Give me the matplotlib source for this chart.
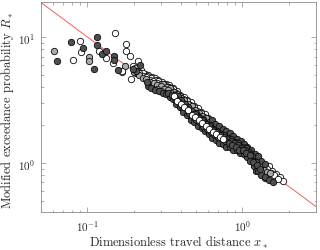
import matplotlib
matplotlib.use("Agg")
import matplotlib.pyplot as plt

plt.rcParams['font.family'] = 'serif'
plt.rcParams['font.serif'] = ['cmr10']
plt.rcParams['mathtext.fontset'] = 'cm'
plt.rcParams['axes.formatter.use_mathtext'] = True

# ---- reference line (fit) ----
line_x = [0.05, 3.0]
line_y = [19.0, 0.449]

# ---- scattered small-x points ----
dark_sc_x = [0.0634, 0.0781, 0.0934, 0.110, 0.116, 0.116, 0.125, 0.133, 0.149, 0.149, 0.157, 0.205, 0.219, 0.242, 0.196]
dark_sc_y = [6.51, 9.12, 8.17, 5.60, 10.0, 8.69, 7.41, 7.74, 7.06, 6.64, 5.50, 5.4, 6.0, 4.4, 5.6]
gray_sc_x = [0.0612, 0.1026, 0.102, 0.174, 0.200]
gray_sc_y = [7.74, 7.01, 6.44, 5.94, 5.3]
white_sc_x = [0.0809, 0.0897, 0.0906, 0.119, 0.132, 0.146, 0.168, 0.151, 0.178, 0.178, 0.188, 0.191, 0.167, 0.213]
white_sc_y = [6.64, 9.35, 7.60, 7.78, 6.84, 6.21, 5.32, 10.8, 8.89, 7.78, 7.06, 4.66, 5.43, 6.53]

# ---- dense band: white series ----
w1_x = [0.198, 0.210, 0.223, 0.235, 0.246, 0.261, 0.275, 0.288, 0.304, 0.322, 0.338, 0.356, 0.377, 0.396, 0.419,
        0.440, 0.466, 0.489, 0.518, 0.544, 0.575, 0.604]
w1_y = [5.95, 5.6, 5.45, 5.15, 5.02, 4.82, 4.75, 4.55, 4.45, 4.27, 4.17, 3.92, 3.75, 3.48, 3.37,
        3.16, 3.05, 2.85, 2.72, 2.55, 2.45, 2.28]
w1_tail_x = [1.48, 1.56, 1.65, 1.74, 1.83]
w1_tail_y = [0.94, 0.87, 0.82, 0.77, 0.72]
w2_x = [0.216, 0.228, 0.240, 0.253, 0.267, 0.281, 0.297, 0.313, 0.330, 0.348, 0.366, 0.386, 0.407, 0.429, 0.453,
        0.477, 0.503, 0.531, 0.559, 0.589, 0.621, 0.655]
w2_y = [5.24, 4.96, 4.81, 4.6, 4.51, 4.35, 4.25, 4.08, 3.99, 3.79, 3.62, 3.35, 3.19, 3.01, 2.85,
        2.67, 2.55, 2.38, 2.29, 2.15, 2.06, 1.93]
w2_tail_x = [1.30, 1.38, 1.45, 1.53, 1.61, 1.70]
w2_tail_y = [1.02, 0.93, 0.9, 0.84, 0.81, 0.75]
w3_x = [0.362, 0.381, 0.402, 0.424, 0.447, 0.471, 0.496, 0.523, 0.551, 0.581, 0.612, 0.645, 0.680, 0.717, 0.756]
w3_y = [3.4, 3.14, 2.97, 2.77, 2.62, 2.41, 2.32, 2.18, 2.1, 1.96, 1.86, 1.75, 1.69, 1.6, 1.56]
w4_x = [0.204, 0.216, 0.229, 0.243, 0.257, 0.272, 0.287, 0.303, 0.319, 0.337, 0.355, 0.374, 0.394, 0.415, 0.437,
        0.461, 0.486, 0.512, 0.540, 0.569, 0.600]
w4_y = [5.7, 5.3, 5.17, 4.88, 4.75, 4.55, 4.47, 4.27, 4.2, 4.0, 3.86, 3.6, 3.42, 3.22, 3.1,
        2.9, 2.79, 2.6, 2.48, 2.34, 2.23]

# ---- dense band: gray series ----
g1_x = [0.205, 0.217, 0.228, 0.241, 0.254, 0.268, 0.282, 0.297, 0.313, 0.330, 0.348, 0.367, 0.386, 0.408, 0.429,
        0.453, 0.478, 0.503, 0.531, 0.560, 0.590, 0.622, 0.656, 0.692, 0.729, 0.769, 0.811, 0.854, 0.901, 0.950,
        1.00, 1.05, 1.11, 1.17, 1.24, 1.31, 1.38, 1.45]
g1_y = [5.18, 5.04, 4.78, 4.65, 4.42, 4.33, 4.15, 4.07, 3.9, 3.83, 3.62, 3.47, 3.2, 3.05, 2.83,
        2.69, 2.5, 2.41, 2.24, 2.17, 2.01, 1.94, 1.8, 1.74, 1.65, 1.6, 1.52, 1.49, 1.41, 1.38,
        1.3, 1.27, 1.18, 1.11, 1.0, 0.96, 0.88, 0.85]
g2_x = [0.283, 0.300, 0.317, 0.334, 0.353, 0.372, 0.393, 0.413, 0.436, 0.459, 0.485, 0.511, 0.539, 0.568, 0.599,
        0.632, 0.666, 0.703, 0.741, 0.782, 0.824, 0.869, 0.917, 0.967, 1.02, 1.07, 1.13, 1.19, 1.26, 1.33,
        1.41, 1.51]
g2_y = [3.88, 3.75, 3.63, 3.52, 3.35, 3.14, 2.9, 2.72, 2.55, 2.37, 2.22, 2.12, 2.01, 1.91, 1.78,
        1.7, 1.6, 1.54, 1.48, 1.43, 1.39, 1.34, 1.29, 1.26, 1.2, 1.16, 1.09, 0.98, 0.9, 0.85,
        0.76, 0.84]
g3_x = [0.310, 0.327, 0.344, 0.363, 0.382, 0.403, 0.424, 0.447, 0.471, 0.497, 0.524, 0.552, 0.582, 0.614, 0.647,
        0.683, 0.720, 0.759, 0.800, 0.844, 0.890]
g3_y = [4.23, 4.06, 3.95, 3.7, 3.52, 3.27, 3.15, 2.95, 2.83, 2.65, 2.52, 2.38, 2.28, 2.13, 2.03,
        1.91, 1.85, 1.75, 1.7, 1.61, 1.55]
g_up_x = [0.691, 0.729, 0.768, 0.810, 0.853, 0.900, 0.949, 1.00, 1.06, 1.11, 1.17, 1.24]
g_up_y = [1.85, 1.74, 1.69, 1.62, 1.57, 1.5, 1.45, 1.36, 1.31, 1.21, 1.16, 1.05]

# ---- dense band: dark series ----
d_up_x = [0.639, 0.672, 0.711, 0.747, 0.790, 0.830, 0.877, 0.923, 0.975, 1.02, 1.08, 1.14, 1.21, 1.27, 1.33, 1.41]
d_up_y = [2.19, 2.06, 1.98, 1.87, 1.81, 1.72, 1.65, 1.55, 1.49, 1.42, 1.34, 1.28, 1.18, 1.13, 1.04, 0.99]
d1_x = [0.248, 0.259, 0.275, 0.290, 0.306, 0.320, 0.340, 0.358, 0.375, 0.398, 0.417, 0.442, 0.464, 0.491, 0.516,
        0.546, 0.573, 0.606, 0.637, 0.674, 0.709, 0.749, 0.788, 0.832, 0.875, 0.925, 0.973, 1.03, 1.08, 1.13,
        1.19, 1.22, 1.26, 1.33, 1.40, 1.48, 1.58]
d1_y = [4.08, 3.97, 3.8, 3.72, 3.58, 3.52, 3.36, 3.22, 2.96, 2.77, 2.56, 2.41, 2.2, 2.11, 1.98,
        1.91, 1.79, 1.69, 1.59, 1.53, 1.45, 1.42, 1.35, 1.33, 1.27, 1.26, 1.2, 1.18, 1.11, 1.04,
        0.95, 0.87, 0.86, 0.8, 0.78, 0.73, 0.71]
d2_x = [0.332, 0.350, 0.369, 0.388, 0.409, 0.431, 0.455, 0.480, 0.506, 0.533, 0.562, 0.593, 0.625, 0.660, 0.696,
        0.734, 0.774, 0.816, 0.860, 0.907, 0.956, 1.01, 1.06, 1.12, 1.18, 1.25, 1.31]
d2_y = [3.63, 3.5, 3.26, 3.08, 2.85, 2.72, 2.48, 2.35, 2.2, 2.12, 1.98, 1.88, 1.77, 1.7, 1.6,
        1.57, 1.49, 1.44, 1.38, 1.35, 1.28, 1.26, 1.2, 1.15, 1.02, 0.96, 0.89]
d3_x = [0.497, 0.524, 0.552, 0.582, 0.613, 0.647, 0.682, 0.719, 0.758, 0.800, 0.843, 0.889, 0.937, 0.988, 1.04,
        1.10, 1.16, 1.22]
d3_y = [2.44, 2.27, 2.19, 2.05, 1.96, 1.84, 1.77, 1.67, 1.62, 1.54, 1.5, 1.43, 1.39, 1.31, 1.28,
        1.19, 1.13, 1.02]
d4_x = [0.383, 0.404, 0.426, 0.450, 0.474, 0.500, 0.527, 0.556, 0.586, 0.618, 0.651, 0.687, 0.724, 0.764, 0.805,
        0.849, 0.895, 0.944, 0.995, 1.05, 1.11]
d4_y = [3.44, 3.16, 2.94, 2.78, 2.6, 2.49, 2.33, 2.23, 2.1, 2.0, 1.88, 1.81, 1.71, 1.66, 1.59,
        1.54, 1.46, 1.43, 1.35, 1.31, 1.22]
d5_x = [0.420, 0.444, 0.468, 0.494, 0.520, 0.549, 0.578, 0.610, 0.643, 0.678, 0.715, 0.754, 0.795, 0.838, 0.884,
        0.932, 0.983, 1.04, 1.09, 1.15, 1.21]
d5_y = [2.68, 2.46, 2.31, 2.17, 2.09, 1.96, 1.87, 1.74, 1.67, 1.57, 1.53, 1.45, 1.42, 1.36, 1.33,
        1.28, 1.25, 1.18, 1.14, 1.03, 0.97]

DARK = '#4f4f4f'
GRAY = '#ababab'
WHITE = '#ffffff'
EDGE = '#0a0a0a'
S = 21
LW = 0.6

fig = plt.figure(figsize=(3.2, 2.51), dpi=100)
ax = fig.add_axes([0.127, 0.150, 0.861, 0.837])

ax.plot(line_x, line_y, color='#f26060', lw=0.7, zorder=1)

def sc(x, y, c):
    ax.scatter(x, y, s=S, c=c, edgecolors=EDGE, linewidths=LW, zorder=2)

sc(w1_x, w1_y, WHITE)
sc(w1_tail_x, w1_tail_y, WHITE)
sc(w4_x, w4_y, WHITE)
sc(w2_x, w2_y, WHITE)
sc(w2_tail_x, w2_tail_y, WHITE)
sc(g3_x, g3_y, GRAY)
sc(g1_x, g1_y, GRAY)
sc(g_up_x, g_up_y, GRAY)
sc(d_up_x, d_up_y, DARK)
sc(d4_x, d4_y, DARK)
sc(d3_x, d3_y, DARK)
sc(g2_x, g2_y, GRAY)
sc(d5_x, d5_y, DARK)
sc(d1_x, d1_y, DARK)
sc(d2_x, d2_y, DARK)
sc(w3_x, w3_y, WHITE)
sc(gray_sc_x, gray_sc_y, GRAY)
sc(white_sc_x, white_sc_y, WHITE)
sc(dark_sc_x, dark_sc_y, DARK)

ax.set_xscale('log')
ax.set_yscale('log')
ax.set_xlim(0.05, 3.0)
ax.set_ylim(0.405, 19.0)

for sp in ax.spines.values():
    sp.set_color('#8a8a8a')
    sp.set_linewidth(0.6)
ax.tick_params(which='both', direction='in', top=True, right=True, color='#8a8a8a',
               width=0.5, labelsize=8, labelcolor='#262626')
ax.tick_params(which='major', length=3.5, pad=4)
ax.tick_params(which='minor', length=1.8)

ax.set_xlabel(r'Dimensionless travel distance $x_*$', fontsize=9, color='#262626', labelpad=1)
ax.set_ylabel(r'Modified exceedance probability $R_*$', fontsize=9, color='#262626')
ax.yaxis.set_label_coords(-0.088, 0.49)

fig.savefig('out.png', dpi=100)
